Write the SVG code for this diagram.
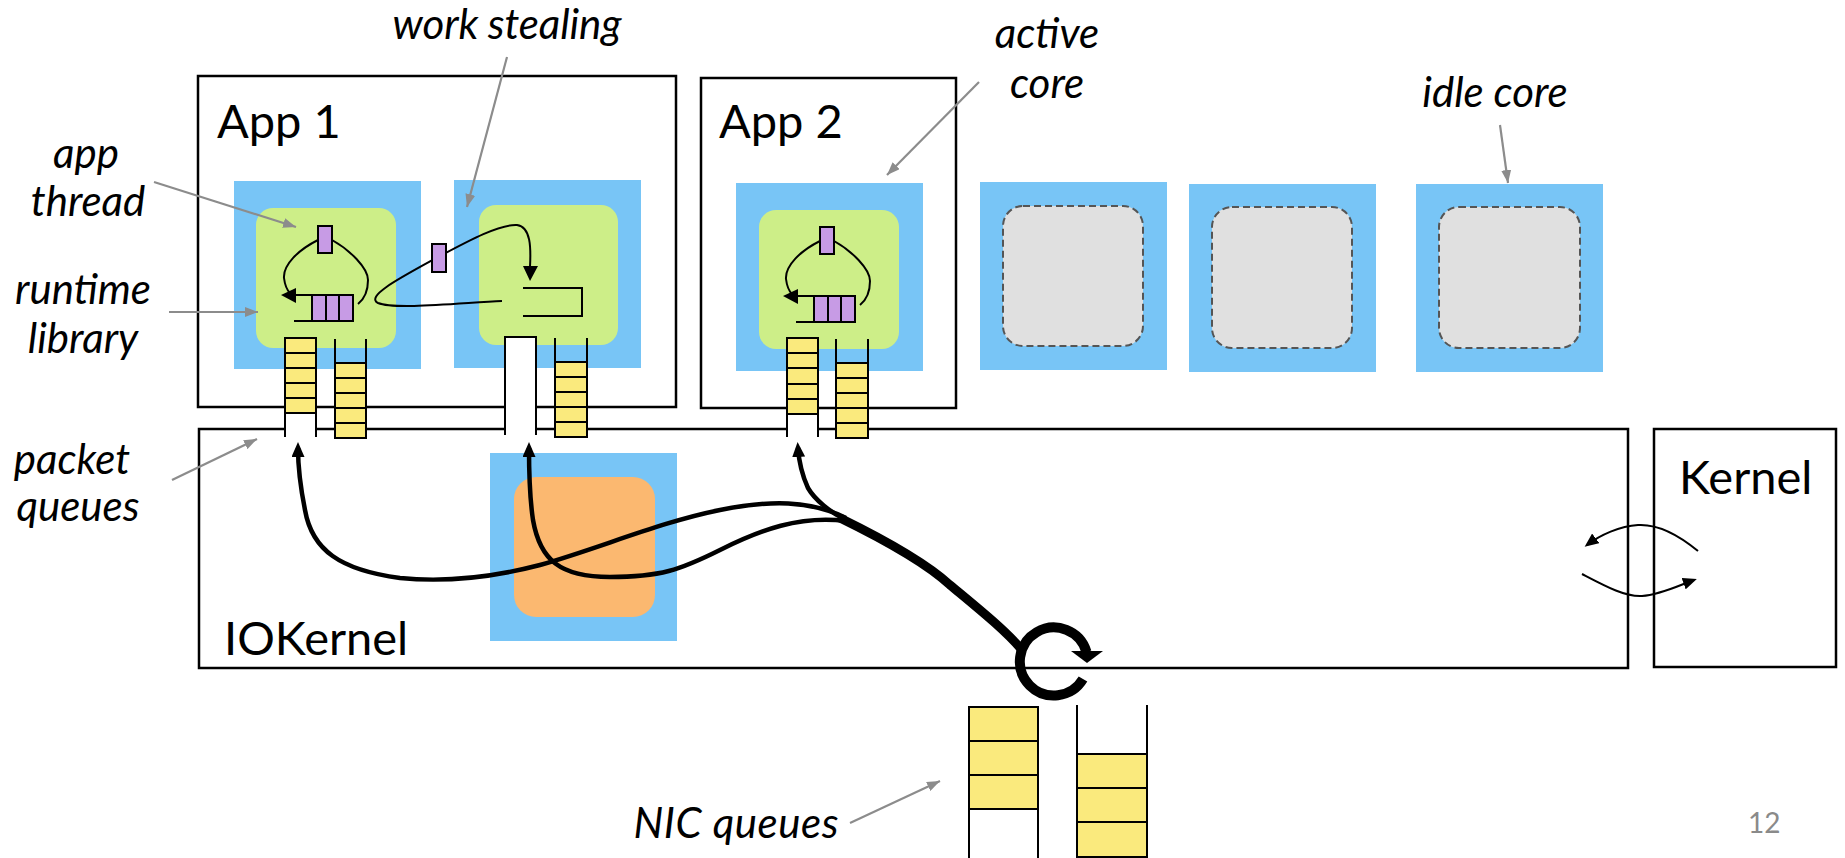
<svg xmlns="http://www.w3.org/2000/svg" width="1845" height="858" viewBox="0 0 1845 858">
<style>
.box{fill:#fff;stroke:#000;stroke-width:2.5}
.blue{fill:#78C5F6}
.green{fill:#CDEE88}
.idle{fill:#E0E0E0;stroke:#555;stroke-width:2;stroke-dasharray:7 4}
.orange{fill:#FBB870}
.yel{fill:#FAEA7D;stroke:#000;stroke-width:2}
.pur{fill:#C79BE5;stroke:#000;stroke-width:2}
.ln{fill:none;stroke:#000;stroke-width:2}
.wall{fill:none;stroke:#000;stroke-width:2}
.big{font-family:Lato,"Liberation Sans",sans-serif;font-size:47px;fill:#000}
.lbl{font-family:Lato,"Liberation Sans",sans-serif;font-style:italic;font-size:42px;fill:#000;text-anchor:middle}
.ptr{fill:none;stroke:#8C8C8C;stroke-width:2.2}
.flow{fill:none;stroke:#000;stroke-width:4.5}
.thin{fill:none;stroke:#000;stroke-width:2}
</style>
<defs>
<marker id="ahG" markerUnits="userSpaceOnUse" viewBox="0 0 13 10" refX="13" refY="5" markerWidth="13" markerHeight="10" orient="auto"><path d="M0,0 L13,5 L0,10 z" fill="#8C8C8C"/></marker>
<marker id="ahT" markerUnits="userSpaceOnUse" viewBox="0 0 15 13" refX="9" refY="6.5" markerWidth="15" markerHeight="13" orient="auto"><path d="M0,0 L15,6.5 L0,13 z" fill="#000"/></marker>
<marker id="ahK" markerUnits="userSpaceOnUse" viewBox="0 0 14 12" refX="11" refY="6" markerWidth="14" markerHeight="12" orient="auto"><path d="M0,0 L14,6 L0,12 z" fill="#000"/></marker>
<g id="threadloop">
<path class="ln" d="M318,240 C298,250 283,265 284,278 C285,286 287,290 290,293"/>
<path class="ln" d="M332,240 C350,250 368,268 368,280 C368,292 363,300 358,304"/>
<rect class="pur" x="318" y="226" width="14" height="27"/>
<path class="ln" d="M293,295 H312 M294,321 H312"/>
<polygon points="281,295 296,288 296,303" fill="#000"/>
<rect class="pur" x="312" y="295" width="41" height="26"/>
<path class="ln" d="M326,295 V321 M339,295 V321"/>
</g>
</defs>

<g id="iokernel">
<rect class="box" x="199" y="429" width="1429" height="239"/>
<text class="big" x="224" y="655">IOKernel</text>
</g>
<g id="kernel">
<rect class="box" x="1654" y="429" width="182" height="238"/>
<text class="big" x="1679" y="494">Kernel</text>
</g>
<g id="app1">
<rect class="box" x="198" y="76" width="478" height="331"/>
<text class="big" x="217" y="138">App 1</text>
</g>
<g id="app2">
<rect class="box" x="701" y="78" width="255" height="330"/>
<text class="big" x="719" y="138">App 2</text>
</g>

<g id="app1-core1">
<rect class="blue" x="234" y="181" width="187" height="188"/>
<rect class="green" x="256" y="208" width="140" height="140" rx="17"/>
<use href="#threadloop"/>
</g>
<g id="app1-core2">
<rect class="blue" x="454" y="180" width="187" height="188"/>
<rect class="green" x="479" y="205" width="139" height="140" rx="17"/>
<path class="ln" d="M523,288 H582 V316 H523"/>
<path class="ln" d="M502,301 C460,303 395,310 378,303 C365,296 400,278 440,256 C470,240 500,224 517,225 C531,227 531,248 530,267"/>
<polygon points="523,266 538,266 530,281" fill="#000"/>
<rect class="pur" x="432" y="244" width="14" height="28"/>
</g>
<g id="app2-core">
<rect class="blue" x="736" y="183" width="187" height="188"/>
<rect class="green" x="759" y="210" width="140" height="139" rx="17"/>
<use href="#threadloop" transform="translate(502,1)"/>
</g>
<g id="idle-core1">
<rect class="blue" x="980" y="182" width="187" height="188"/>
<rect class="idle" x="1003" y="206" width="140" height="140" rx="20"/>
</g>
<g id="idle-core2">
<rect class="blue" x="1189" y="184" width="187" height="188"/>
<rect class="idle" x="1212" y="207" width="140" height="141" rx="20"/>
</g>
<g id="idle-core3">
<rect class="blue" x="1416" y="184" width="187" height="188"/>
<rect class="idle" x="1439" y="207" width="141" height="141" rx="20"/>
</g>
<g id="iokernel-core">
<rect class="blue" x="490" y="453" width="187" height="188"/>
<rect class="orange" x="514" y="477" width="141" height="140" rx="22"/>
</g>

<g id="packet-queues">
<rect x="286" y="412" width="29" height="25" fill="#fff"/>
<rect class="yel" x="285" y="338" width="31" height="75"/>
<path class="ln" d="M285,353 H316 M285,368 H316 M285,383 H316 M285,398 H316"/>
<path class="wall" d="M285,338 V437 M316,338 V437"/>
<rect class="yel" x="335" y="363" width="31" height="75"/>
<path class="ln" d="M335,378 H366 M335,393 H366 M335,408 H366 M335,423 H366"/>
<path class="wall" d="M335,339 V438 M366,339 V438"/>
<rect x="505" y="337" width="31" height="98" fill="#fff"/>
<path class="wall" d="M505,435 V337 H536 V435"/>
<rect class="yel" x="555" y="362" width="32" height="75"/>
<path class="ln" d="M555,377 H587 M555,392 H587 M555,407 H587 M555,422 H587"/>
<path class="wall" d="M555,338 V437 M587,338 V437"/>
<rect x="788" y="413" width="29" height="24" fill="#fff"/>
<rect class="yel" x="787" y="338" width="31" height="76"/>
<path class="ln" d="M787,353 H818 M787,368 H818 M787,384 H818 M787,399 H818"/>
<path class="wall" d="M787,338 V437 M818,338 V437"/>
<rect class="yel" x="836" y="363" width="32" height="75"/>
<path class="ln" d="M836,378 H868 M836,393 H868 M836,408 H868 M836,423 H868"/>
<path class="wall" d="M836,339 V438 M868,339 V438"/>
</g>

<g id="nic-queues">
<rect class="yel" x="969" y="707" width="69" height="102"/>
<path class="ln" d="M969,741 H1038 M969,775 H1038"/>
<path class="wall" d="M969,707 V858 M1038,707 V858"/>
<rect class="yel" x="1077" y="754" width="70" height="103"/>
<path class="ln" d="M1077,788 H1147 M1077,822 H1147"/>
<path class="wall" d="M1077,705 V858 M1147,705 V858"/>
</g>

<g id="connectors">
<path class="flow" d="M846,518 C810,500 770,500 720,510 C660,522 600,548 540,565 C490,578 440,582 400,578 C340,570 312,550 305,510 C300,485 298,470 298,448" marker-end="url(#ahT)"/>
<path class="flow" d="M846,521 C800,515 760,530 720,550 C680,570 660,577 610,577 C560,577 540,560 533,520 C530,500 529,470 529,448" marker-end="url(#ahT)"/>
<path class="flow" d="M846,520 C830,512 815,500 808,488 C802,475 799,462 798,448" marker-end="url(#ahT)"/>
<path fill="none" stroke="#000" stroke-width="9" d="M840,518 C885,540 925,562 950,585 C980,610 1005,630 1022,650"/>
<path fill="none" stroke="#000" stroke-width="10" d="M1083,679 A34,34 0 1 1 1086.5,652"/>
<polygon points="1071,651 1103,651 1087,663" fill="#000"/>
<path class="thin" d="M1698,551 C1675,532 1655,524 1638,525 C1620,526 1600,535 1587,545" marker-end="url(#ahK)"/>
<path class="thin" d="M1582,574 C1605,586 1625,597 1642,596 C1660,595 1680,585 1694,580" marker-end="url(#ahK)"/>
<path class="ptr" d="M507,57 L467,207" marker-end="url(#ahG)"/>
<path class="ptr" d="M979,82 L887,175" marker-end="url(#ahG)"/>
<path class="ptr" d="M1500,125 L1508,183" marker-end="url(#ahG)"/>
<path class="ptr" d="M154,182 L296,227" marker-end="url(#ahG)"/>
<path class="ptr" d="M169,312 L258,312" marker-end="url(#ahG)"/>
<path class="ptr" d="M172,480 L257,439" marker-end="url(#ahG)"/>
<path class="ptr" d="M850,823 L940,781" marker-end="url(#ahG)"/>
</g>

<g id="labels">
<text class="lbl" x="507" y="39" textLength="229">work stealing</text>
<text class="lbl" x="1047" y="48">active</text>
<text class="lbl" x="1047" y="98">core</text>
<text class="lbl" x="1495" y="107">idle core</text>
<text class="lbl" x="86" y="168">app</text>
<text class="lbl" x="88" y="216">thread</text>
<text class="lbl" x="83" y="304">runtime</text>
<text class="lbl" x="83" y="353">library</text>
<text class="lbl" x="72" y="474">packet</text>
<text class="lbl" x="78" y="521">queues</text>
<text class="lbl" x="736" y="838" textLength="205">NIC queues</text>
<text x="1748" y="833" style="font-family:Lato,'Liberation Sans',sans-serif;font-size:28px;fill:#8A8A8A">12</text>
</g>
</svg>
